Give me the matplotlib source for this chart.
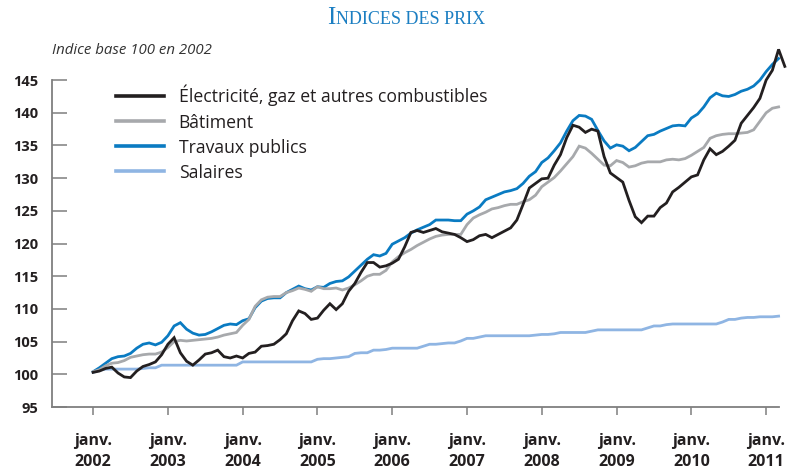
import matplotlib
matplotlib.use('Agg')
import matplotlib.pyplot as plt
import numpy as np

# Indices mensuels, base 100 en 2002 (janv. 2002 = mois 0)
annees = list(range(2002, 2012))

electricite = [
    100.3, 100.5, 100.9, 101.1, 100.2, 99.6, 99.5, 100.5, 101.2, 101.5, 101.9, 103.0,   # 2002
    104.6, 105.6, 103.3, 102.0, 101.4, 102.2, 103.1, 103.3, 103.7, 102.7, 102.5, 102.8,  # 2003
    102.5, 103.2, 103.4, 104.3, 104.4, 104.6, 105.3, 106.2, 108.2, 109.7, 109.3, 108.4,  # 2004
    108.6, 109.8, 110.8, 109.9, 110.8, 112.7, 113.9, 115.6, 117.1, 117.1, 116.4, 116.6,  # 2005
    117.0, 117.6, 119.5, 121.7, 122.0, 121.7, 122.0, 122.3, 121.8, 121.6, 121.4, 120.9,  # 2006
    120.3, 120.6, 121.2, 121.4, 120.9, 121.4, 121.9, 122.4, 123.6, 126.0, 128.5, 129.2,  # 2007
    129.9, 130.0, 132.0, 133.6, 136.2, 138.1, 137.8, 137.0, 137.5, 137.2, 133.3, 130.8,  # 2008
    130.1, 129.4, 126.6, 124.1, 123.2, 124.2, 124.2, 125.5, 126.2, 127.9, 128.6, 129.4,  # 2009
    130.2, 130.5, 132.8, 134.5, 133.6, 134.1, 134.9, 135.8, 138.4, 139.6, 140.8, 142.2,  # 2010
    145.0, 146.5, 149.7, 147.1,                                                          # 2011
]

batiment = [
    100.4, 100.7, 101.3, 101.7, 101.8, 102.1, 102.6, 102.8, 103.0, 103.1, 103.1, 103.4,
    104.1, 105.0, 105.2, 105.1, 105.2, 105.3, 105.4, 105.5, 105.7, 106.0, 106.2, 106.4,
    107.5, 108.4, 110.4, 111.4, 111.8, 111.9, 111.9, 112.5, 112.8, 113.2, 113.0, 112.7,
    113.4, 113.1, 113.1, 113.2, 112.9, 113.2, 113.7, 114.3, 115.0, 115.3, 115.3, 115.9,
    117.2, 118.0, 118.6, 119.1, 119.7, 120.2, 120.7, 121.1, 121.3, 121.4, 121.4, 121.4,
    122.9, 123.9, 124.4, 124.8, 125.3, 125.5, 125.8, 126.0, 126.0, 126.4, 126.7, 127.4,
    128.7, 129.4, 130.1, 131.1, 132.2, 133.3, 134.9, 134.6, 133.8, 132.9, 132.0, 131.9,
    132.7, 132.4, 131.7, 131.9, 132.3, 132.5, 132.5, 132.5, 132.8, 132.9, 132.8, 133.0,
    133.5, 134.1, 134.7, 136.1, 136.5, 136.7, 136.8, 136.8, 136.9, 137.0, 137.4, 138.7,
    140.0, 140.7, 140.9,
]

travaux_publics = [
    100.4, 101.0, 101.7, 102.4, 102.7, 102.8, 103.2, 104.0, 104.6, 104.8, 104.5, 104.9,
    105.9, 107.4, 107.9, 106.9, 106.3, 106.0, 106.1, 106.5, 107.0, 107.5, 107.7, 107.6,
    108.2, 108.5, 110.2, 111.2, 111.6, 111.7, 111.7, 112.5, 113.0, 113.5, 113.1, 112.9,
    113.4, 113.3, 113.9, 114.2, 114.3, 114.9, 115.8, 116.7, 117.6, 118.3, 118.1, 118.5,
    119.9, 120.4, 120.9, 121.6, 122.1, 122.5, 122.9, 123.6, 123.6, 123.6, 123.5, 123.5,
    124.5, 125.0, 125.6, 126.7, 127.1, 127.5, 127.9, 128.1, 128.4, 129.2, 130.3, 131.0,
    132.4, 133.1, 134.2, 135.4, 137.2, 138.8, 139.6, 139.5, 139.0, 137.3, 135.7, 134.6,
    135.1, 134.9, 134.2, 134.7, 135.6, 136.5, 136.7, 137.2, 137.6, 138.0, 138.1, 138.0,
    139.2, 139.8, 140.9, 142.3, 143.0, 142.6, 142.5, 142.8, 143.3, 143.6, 144.1, 145.0,
    146.3, 147.4, 148.3,
]

salaires = [
    100.3, 100.6, 100.8, 100.8, 100.8, 100.8, 100.8, 100.8, 100.9, 101.0, 101.0, 101.4,
    101.4, 101.4, 101.4, 101.4, 101.4, 101.4, 101.4, 101.4, 101.4, 101.4, 101.4, 101.4,
    101.9, 101.9, 101.9, 101.9, 101.9, 101.9, 101.9, 101.9, 101.9, 101.9, 101.9, 101.9,
    102.3, 102.4, 102.4, 102.5, 102.6, 102.7, 103.2, 103.3, 103.3, 103.7, 103.7, 103.8,
    104.0, 104.0, 104.0, 104.0, 104.0, 104.3, 104.6, 104.6, 104.7, 104.8, 104.8, 105.1,
    105.5, 105.5, 105.7, 105.9, 105.9, 105.9, 105.9, 105.9, 105.9, 105.9, 105.9, 106.0,
    106.1, 106.1, 106.2, 106.4, 106.4, 106.4, 106.4, 106.4, 106.6, 106.8, 106.8, 106.8,
    106.8, 106.8, 106.8, 106.8, 106.8, 107.1, 107.4, 107.4, 107.6, 107.7, 107.7, 107.7,
    107.7, 107.7, 107.7, 107.7, 107.7, 108.0, 108.4, 108.4, 108.6, 108.7, 108.7, 108.8,
    108.8, 108.8, 108.9,
]

series = [
    ("Électricité, gaz et autres combustibles", electricite, '#231f20', 2.0, 4),
    ("Bâtiment", batiment, '#a7a9ac', 2.0, 3),
    ("Travaux publics", travaux_publics, '#0a7bc2', 2.0, 2),
    ("Salaires", salaires, '#8fb5e3', 2.0, 1),
]

TEXTE = '#231f20'
AXE = '#7f7f7f'
plt.rcParams['font.family'] = ['Open Sans', 'DejaVu Sans']

fig = plt.figure(figsize=(7.96, 4.70), dpi=100)
ax = fig.add_axes([0.0653, 0.134, 0.9324, 0.779])

lignes = []
for nom, valeurs, couleur, lw, z in series:
    x = np.arange(len(valeurs))
    l, = ax.plot(x, valeurs, color=couleur, lw=lw, zorder=z, label=nom,
                 solid_joinstyle='miter')
    lignes.append(l)

ax.set_xlim(-6.6, 112.5)
ax.set_ylim(95, 151)

# axes
for s in ['top', 'right']:
    ax.spines[s].set_visible(False)
for s in ['left', 'bottom']:
    ax.spines[s].set_color(AXE)
    ax.spines[s].set_linewidth(1.3)
ax.spines['left'].set_bounds(95, 145)
ax.spines['bottom'].set_bounds(-6.6, 110)

ax.set_yticks(range(95, 150, 5))
ax.tick_params(axis='y', direction='in', length=11, width=1.1, color=AXE,
               pad=10, labelsize=10.5, labelcolor=TEXTE)
for lab in ax.get_yticklabels():
    lab.set_fontweight('bold')

ax.set_xticks([12 * i for i in range(len(annees))])
ax.set_xticklabels([f"janv.\n{a}" for a in annees], fontweight='bold',
                   linespacing=1.4)
ax.tick_params(axis='x', direction='out', length=6, width=1.1, color=AXE,
               pad=13, labelsize=11.5, labelcolor=TEXTE)

# légende
leg = ax.legend(handles=lignes, loc='upper left', bbox_to_anchor=(116 / 796, 1 - 85 / 470),
                bbox_transform=fig.transFigure, frameon=False, fontsize=12.7,
                handlelength=2.7, handletextpad=0.85, labelspacing=0.4,
                borderpad=0, borderaxespad=0)
for h in leg.get_lines():
    h.set_linewidth(2.6)
for t in leg.get_texts():
    t.set_color(TEXTE)

# sous-titre
fig.text(52 / 796, 1 - 51 / 470, "Indice base 100 en 2002", fontsize=10.8,
         style='italic', color='#333333', va='center', ha='left')

# titre en petites capitales
BLEU = '#1b7ec2'
fig.canvas.draw()
r = fig.canvas.get_renderer()
t1 = fig.text(0, 0, "I", fontsize=18, family='Liberation Serif', color=BLEU, va='baseline')
t2 = fig.text(0, 0, "NDICES DES PRIX", fontsize=13, family='Liberation Serif', color=BLEU,
              va='baseline')
w1 = t1.get_window_extent(r).width
w2 = t2.get_window_extent(r).width
x0 = 406 - (w1 + w2) / 2
y0 = 470 - 24
t1.set_position((x0 / 796, y0 / 470))
t2.set_position(((x0 + w1 + 0.5) / 796, y0 / 470))

fig.savefig('out.png', dpi=100)
